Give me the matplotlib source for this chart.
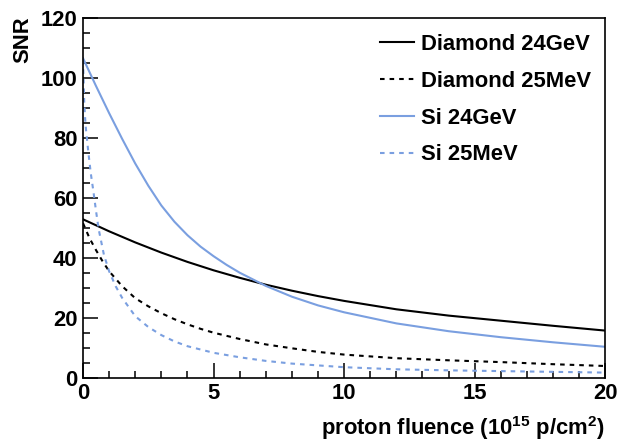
import matplotlib
matplotlib.use("Agg")
import matplotlib.pyplot as plt
from matplotlib.ticker import MultipleLocator

plt.rcParams['font.family'] = ['Liberation Sans', 'DejaVu Sans']
plt.rcParams['font.weight'] = 'bold'
plt.rcParams['mathtext.fontset'] = 'custom'
plt.rcParams['mathtext.rm'] = 'Liberation Sans:bold'
plt.rcParams['mathtext.it'] = 'Liberation Sans:bold'
plt.rcParams['mathtext.bf'] = 'Liberation Sans:bold'
plt.rcParams['mathtext.default'] = 'rm'

# ---- data ----
diam24_x = [0, 1, 2, 3, 4, 5, 6, 7, 8, 9, 10, 12, 14, 16, 18, 20]
diam24_y = [52.8, 48.8, 45.1, 41.7, 38.6, 35.8, 33.3, 31.0, 29.0, 27.2, 25.6, 22.8, 20.7, 19.0, 17.3, 15.7]

diam25_x = [0, 0.25, 0.5, 0.75, 1, 1.5, 2, 2.5, 3, 3.5, 4, 4.5, 5, 6, 7, 8, 9, 10, 12, 14, 16, 18, 20]
diam25_y = [51.5, 46.5, 42.5, 38.8, 35.5, 30.5, 26.5, 23.8, 21.5, 19.5, 17.8, 16.3, 15.0, 12.9, 11.1, 9.8, 8.6, 7.7, 6.5, 5.8, 5.2, 4.5, 3.9]

si24_x = [0, 0.5, 1, 1.5, 2, 2.5, 3, 3.5, 4, 4.5, 5, 5.5, 6, 7, 8, 9, 10, 12, 14, 16, 18, 20]
si24_y = [106.5, 97.2, 88.2, 79.6, 71.4, 64.0, 57.4, 52.0, 47.5, 43.7, 40.5, 37.6, 35.0, 30.6, 27.0, 24.1, 21.8, 18.1, 15.5, 13.5, 11.8, 10.3]

si25_x = [0, 0.05, 0.1, 0.2, 0.3, 0.4, 0.5, 0.6, 0.8, 1.0, 1.25, 1.5, 2, 2.5, 3, 3.5, 4, 5, 6, 7, 8, 10, 12, 14, 16, 18, 20]
si25_y = [106, 91, 84, 75.5, 68, 62, 55.5, 49.5, 41, 35.5, 30.5, 26.6, 20.5, 16.9, 14.2, 12.1, 10.5, 8.3, 6.8, 5.6, 4.7, 3.5, 2.8, 2.45, 2.2, 1.95, 1.7]

labels = ["Diamond 24GeV", "Diamond 25MeV", "Si 24GeV", "Si 25MeV"]
x_label = "proton fluence (10$^{15}$ p/cm$^{2}$)"
y_label = "SNR"

BLUE = '#7a9fe0'
FS = 15.8

fig = plt.figure(figsize=(6.19, 4.41), dpi=100)
ax = fig.add_axes([83/619, 1 - 377.7/441, (605.3 - 83)/619, (377.7 - 17.7)/441])

lw = 1.5
dash = (0, (2.2, 2.4))
ax.plot(diam24_x, diam24_y, color='black', lw=lw, label=labels[0])
ax.plot(diam25_x, diam25_y, color='black', lw=lw, linestyle=dash, label=labels[1])
ax.plot(si24_x, si24_y, color=BLUE, lw=lw, label=labels[2])
ax.plot(si25_x, si25_y, color=BLUE, lw=lw, linestyle=dash, label=labels[3])

ax.set_xlim(0, 20)
ax.set_ylim(0, 120)
ax.xaxis.set_major_locator(MultipleLocator(5))
ax.xaxis.set_minor_locator(MultipleLocator(1))
ax.yaxis.set_major_locator(MultipleLocator(20))
ax.yaxis.set_minor_locator(MultipleLocator(5))
ax.tick_params(which='both', direction='in', top=False, right=False, width=1.1)
ax.tick_params(which='major', length=10.5, labelsize=FS)
ax.tick_params(which='minor', length=5.2)
ax.tick_params(axis='y', which='major', pad=4)
ax.tick_params(axis='x', which='major', pad=4)
for lab in ax.get_xticklabels() + ax.get_yticklabels():
    lab.set_fontweight('bold')
for sp in ax.spines.values():
    sp.set_linewidth(1.2)

fig.text(605/619, 1 - 428/441, x_label, ha='right', va='center', fontsize=FS, fontweight='bold')
fig.text(22.5/619, 1 - 16/441, y_label, ha='center', va='top', rotation=90, fontsize=FS, fontweight='bold')

leg = ax.legend(loc='upper left', bbox_to_anchor=(380/619, 1 - 34/441), bbox_transform=fig.transFigure,
                frameon=False, fontsize=FS, handlelength=1.55, handletextpad=0.32,
                labelspacing=0.72, borderpad=0, borderaxespad=0)
for t in leg.get_texts():
    t.set_fontweight('bold')

fig.savefig('out.png', dpi=100)
